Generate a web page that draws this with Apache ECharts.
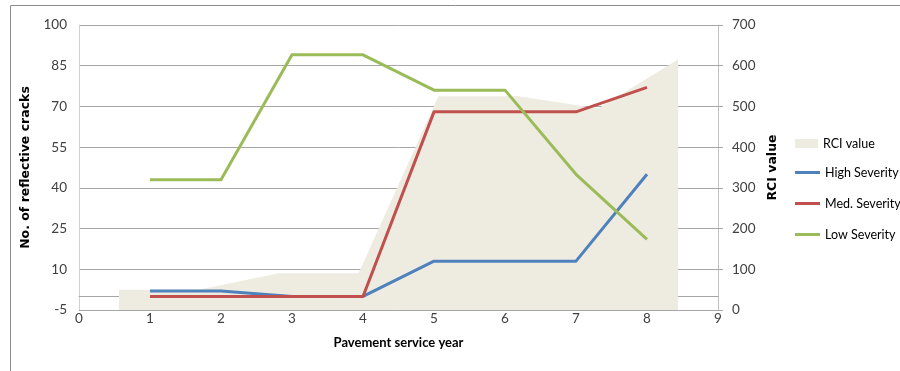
<!DOCTYPE html>
<html>
<head>
<meta charset="utf-8">
<script src="https://cdn.jsdelivr.net/npm/echarts@6/dist/echarts.min.js"></script>
<style>
  html, body { margin: 0; padding: 0; background: #fff; }
  #chart { width: 900px; height: 371px; }
</style>
</head>
<body>
<div id="chart"></div>
<script>
// Reflective cracking by severity over pavement service years, with RCI value behind
const years = [1, 2, 3, 4, 5, 6, 7, 8];
const highSeverity = [2, 2, 0, 0, 13, 13, 13, 45];
const medSeverity = [0, 0, 0, 0, 68, 68, 68, 77];
const lowSeverity = [43, 43, 89, 89, 76, 76, 45, 21];
const rciValue = [50, 50, 90, 90, 525, 525, 495, 615];

const crackTicks = [-5, 10, 25, 40, 55, 70, 85, 100];
const rciTicks = [0, 100, 200, 300, 400, 500, 600, 700];

const bodyFont = 'Lato, "Open Sans", sans-serif';
const titleFont = '"DejaVu Sans", sans-serif';
const gridGray = '#a6a6a6';

const pairs = (vals) => years.map((y, i) => [y, vals[i]]);

const chart = echarts.init(document.getElementById('chart'), null, { renderer: 'canvas' });

chart.setOption({
  animation: false,
  backgroundColor: '#ffffff',
  textStyle: { fontFamily: bodyFont },
  graphic: [
    {
      type: 'polyline',
      silent: true,
      shape: { points: [[10.5, 371], [10.5, 5.5], [900, 5.5]] },
      style: { stroke: '#8c8c8c', lineWidth: 1, fill: null }
    }
  ],
  grid: { left: 79, right: 182, top: 25, bottom: 61, containLabel: false },
  legend: [
    {
      orient: 'vertical',
      left: 795,
      top: 137,
      padding: 0,
      itemWidth: 23,
      itemHeight: 9,
      icon: 'rect',
      data: ['RCI value'],
      textStyle: { fontFamily: bodyFont, fontSize: 12.5, color: '#000' }
    },
    {
      orient: 'vertical',
      left: 795,
      top: 166,
      padding: 0,
      itemWidth: 25,
      itemHeight: 3,
      itemGap: 18,
      icon: 'rect',
      data: ['High Severity', 'Med. Severity', 'Low Severity'],
      textStyle: { fontFamily: bodyFont, fontSize: 12.5, color: '#000' }
    }
  ],
  xAxis: [
    {
      type: 'value',
      min: 0,
      max: 9,
      interval: 1,
      name: 'Pavement service year',
      nameLocation: 'middle',
      nameGap: 26,
      nameTextStyle: { fontFamily: bodyFont, fontWeight: 'bold', fontSize: 13, color: '#000' },
      axisLine: { show: true, lineStyle: { color: gridGray, width: 1 } },
      axisTick: { show: false },
      axisLabel: { fontFamily: bodyFont, fontSize: 13.5, color: '#404040', margin: 2 },
      splitLine: { show: false }
    },
    {
      type: 'category',
      data: years.map(String),
      boundaryGap: true,
      show: false
    }
  ],
  yAxis: [
    {
      type: 'value',
      min: -5,
      max: 100,
      interval: 15,
      position: 'left',
      name: 'No. of reflective cracks',
      nameLocation: 'middle',
      nameRotate: 90,
      nameGap: 43,
      nameTextStyle: { fontFamily: titleFont, fontWeight: 'bold', fontSize: 12.5, color: '#000' },
      axisLine: { show: true, lineStyle: { color: '#d0d0d0', width: 1 } },
      axisTick: { show: false },
      axisLabel: {
        fontFamily: bodyFont, fontSize: 13.5, color: '#404040', margin: 12,
        formatter: (v) => (crackTicks.includes(v) ? String(v) : '')
      },
      splitLine: { show: true, lineStyle: { color: gridGray, width: 1 } }
    },
    {
      type: 'value',
      min: 0,
      max: 700,
      interval: 100,
      position: 'right',
      name: 'RCI value',
      nameLocation: 'middle',
      nameRotate: 90,
      nameGap: 47,
      nameTextStyle: { fontFamily: titleFont, fontWeight: 'bold', fontSize: 12.5, color: '#000' },
      axisLine: { show: true, lineStyle: { color: '#c0c0c0', width: 1 } },
      axisTick: { show: true, inside: false, length: 5, lineStyle: { color: gridGray } },
      axisLabel: {
        fontFamily: bodyFont, fontSize: 13.5, color: '#404040', margin: 14,
        formatter: (v) => (rciTicks.includes(v) ? String(v) : '')
      },
      splitLine: { show: false }
    }
  ],
  series: [
    {
      name: 'RCI value',
      type: 'line',
      xAxisIndex: 1,
      yAxisIndex: 1,
      data: rciValue,
      symbol: 'none',
      lineStyle: { width: 0, color: '#eeece1' },
      itemStyle: { color: '#eeece1' },
      areaStyle: { color: '#eeece1', opacity: 1 },
      z: 1,
      markLine: {
        silent: true,
        symbol: 'none',
        label: { show: false },
        lineStyle: { color: gridGray, width: 1, type: 'solid' },
        data: [{ yAxis: 0 }]
      }
    },
    {
      name: 'High Severity',
      type: 'line',
      data: pairs(highSeverity),
      symbol: 'none',
      lineStyle: { width: 3, color: '#4f81bd', join: 'round' },
      itemStyle: { color: '#4f81bd' },
      z: 3
    },
    {
      name: 'Med. Severity',
      type: 'line',
      data: pairs(medSeverity),
      symbol: 'none',
      lineStyle: { width: 3, color: '#c0504d', join: 'round' },
      itemStyle: { color: '#c0504d' },
      z: 3
    },
    {
      name: 'Low Severity',
      type: 'line',
      data: pairs(lowSeverity),
      symbol: 'none',
      lineStyle: { width: 3, color: '#9bbb59', join: 'round' },
      itemStyle: { color: '#9bbb59' },
      z: 3
    }
  ]
});
</script>
</body>
</html>
